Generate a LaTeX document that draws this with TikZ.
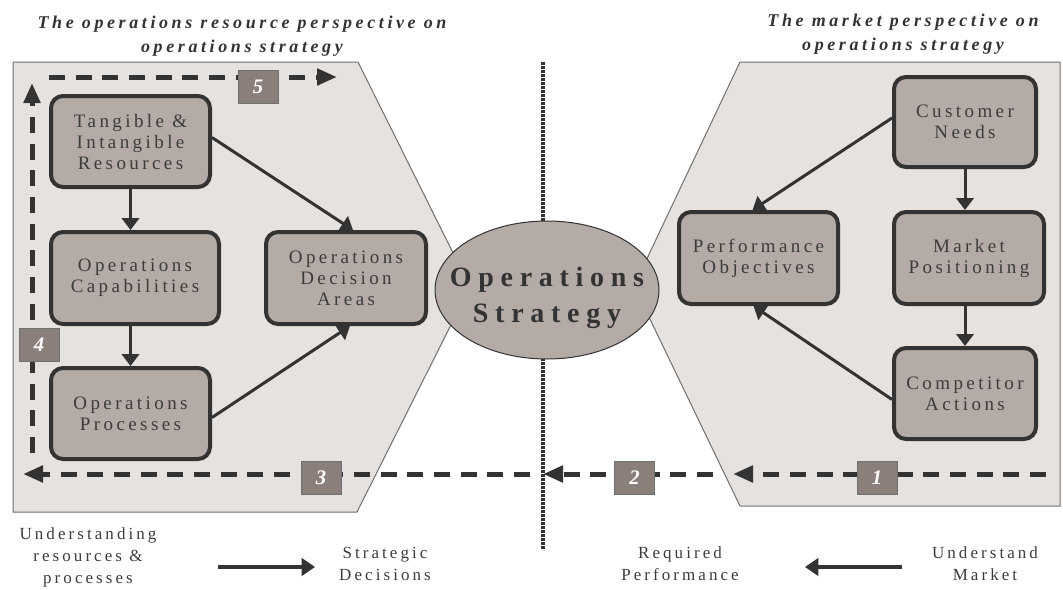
\documentclass[tikz,border=0pt]{standalone}
\usepackage{fontspec}
\setmainfont{Liberation Serif}
\newfontfamily\boxfont[LetterSpace=18]{Liberation Serif}
\newfontfamily\titlefont[LetterSpace=20]{Liberation Serif}
\newfontfamily\ellfont[LetterSpace=24]{Liberation Serif}
\usetikzlibrary{arrows.meta,calc,shapes.geometric}
\definecolor{panel}{HTML}{E6E2DF}
\definecolor{boxfill}{HTML}{B4AAA6}
\definecolor{dark}{HTML}{333333}
\definecolor{boxtext}{HTML}{3C3C3C}
\definecolor{numfill}{HTML}{8B7F7B}
\definecolor{panelline}{HTML}{707070}
\tikzset{
  panelshape/.style={fill=panel, draw=panelline, line width=0.75pt},
  box/.style={rectangle, rounded corners=9pt, fill=boxfill, draw=dark, line width=3pt,
    inner sep=0pt, align=center, text=boxtext,
    font={\boxfont\fontsize{14.25}{15.75}\selectfont}},
  numbox/.style={rectangle, fill=numfill, draw=panelline, line width=0.75pt,
    minimum width=30pt, minimum height=24.75pt, inner sep=0pt, text=white,
    font={\fontsize{15.5}{15.5}\selectfont\bfseries\itshape}},
  flow/.style={draw=dark, line width=2.25pt, -{Triangle[length=9pt,width=13pt]}},
  dflow/.style={draw=dark, line width=3.75pt, dash pattern=on 12pt off 8pt,
    -{Triangle[length=15pt,width=12pt]}},
  titletext/.style={align=center, text=dark,
    font={\titlefont\fontsize{13.5}{18}\selectfont\bfseries\itshape}},
  bottomtext/.style={align=center, text=boxtext,
    font={\boxfont\fontsize{12.75}{16.5}\selectfont}},
  bigflow/.style={draw=dark, line width=3pt, -{Triangle[length=10pt,width=13pt]}},
}
\begin{document}
\begin{tikzpicture}[x=0.75pt,y=-0.75pt]
\useasboundingbox (0,0) rectangle (1063,589);

% panels
\path[panelshape] (13,62) -- (358,62) -- (470,287) -- (357,512) -- (13,512) -- cycle;
\path[panelshape] (740,62) -- (1060,62) -- (1060,506) -- (740,506) -- (634,286) -- cycle;

% dotted divider
\coordinate (dtop) at (543,62);
\coordinate (dbot) at (543,550);
\draw[draw=dark, line width=3pt, dash pattern=on 2pt off 1pt] (dtop) -- (dbot);

% titles
\node[titletext] (tl) at (242,36) {The operations resource perspective on\\operations strategy};
\node[titletext] (tr) at (903,34) {The market perspective on\\operations strategy};

% boxes left
\node[box, minimum width=119.25pt, minimum height=68.25pt] (T) at (130.5,141.5) {Tangible \&\\Intangible\\Resources};
\node[box, minimum width=126pt, minimum height=69pt] (C) at (135,278) {Operations\\Capabilities};
\node[box, minimum width=119.25pt, minimum height=68.25pt] (P) at (130.5,413.5) {Operations\\Processes};
\node[box, minimum width=120pt, minimum height=69pt] (D) at (346,278) {Operations\\Decision\\Areas};

% boxes right
\node[box, minimum width=106.5pt, minimum height=67.5pt] (CN) at (965,122) {Customer\\Needs};
\node[box, minimum width=119.25pt, minimum height=69pt] (PO) at (758.5,258) {Performance\\Objectives};
\node[box, minimum width=112.5pt, minimum height=69pt] (MP) at (969,258) {Market\\Positioning};
\node[box, minimum width=106.5pt, minimum height=68.25pt] (CA) at (965,393.5) {Competitor\\Actions};

% ellipse
\node[ellipse, fill=boxfill, draw=dark, line width=0.75pt, minimum width=168pt, minimum height=103.5pt,
  inner xsep=-25pt, inner ysep=-15pt, align=center, text=dark,
  font={\ellfont\fontsize{21}{27}\selectfont\bfseries}] (OS) at (547,290) {\rule{0pt}{26pt}Operations\\Strategy};

% solid arrows
\draw[flow] (T.south) -- (T.south |- C.north);
\draw[flow] (C.south -| T.south) -- (T.south |- P.north);
\draw[flow] ($(T.east)+(0,-4)$) -- ($(D.north)+(7,0)$);
\draw[flow] ($(P.east)+(0,4)$) -- ($(D.south)+(4,0)$);
\draw[flow] (CN.south) -- (CN.south |- MP.north);
\draw[flow] (CN.south |- MP.south) -- (CN.south |- CA.north);
\draw[flow] ($(CN.west)+(0,-4)$) -- ($(PO.north)+(-6,0)$);
\draw[flow] ($(CA.west)+(0,6)$) -- ($(PO.south)+(-5,0)$);

% dashed loop
\coordinate (a5s) at (49,77);   \coordinate (a5e) at (337,77);
\coordinate (a4s) at (32,453);  \coordinate (a4e) at (32,83);
\coordinate (a3s) at (530,474); \coordinate (a3e) at (23,474);
\coordinate (a2s) at (713,474); \coordinate (a2e) at (543,474);
\coordinate (a1s) at (1046,474); \coordinate (a1e) at (733,474);
\draw[dflow] (a5s) -- (a5e);
\draw[dflow] (a4s) -- (a4e);
\draw[dflow] (a3s) -- (a3e);
\draw[dflow] (a2s) -- (a2e);
\draw[dflow] (a1s) -- (a1e);

\node[numbox] (n5) at (258,86.5) {5};
\node[numbox] (n4) at (39,345) {4};
\node[numbox] (n3) at (321,477.5) {3};
\node[numbox] (n2) at (634.5,477.5) {2};
\node[numbox] (n1) at (877,478) {1};

% bottom labels
\node[bottomtext] (U) at (88,557) {Understanding\\resources \&\\processes};
\node[bottomtext] (S) at (385,563.5) {Strategic\\Decisions};
\node[bottomtext] (R) at (680,563.5) {Required\\Performance};
\node[bottomtext] (M) at (985,563.5) {Understand\\Market};
\coordinate (b1s) at (218,567); \coordinate (b1e) at (315,567);
\coordinate (b2s) at (902,567); \coordinate (b2e) at (805,567);
\draw[bigflow] (b1s) -- (b1e);
\draw[bigflow] (b2s) -- (b2e);
\end{tikzpicture}
\end{document}
